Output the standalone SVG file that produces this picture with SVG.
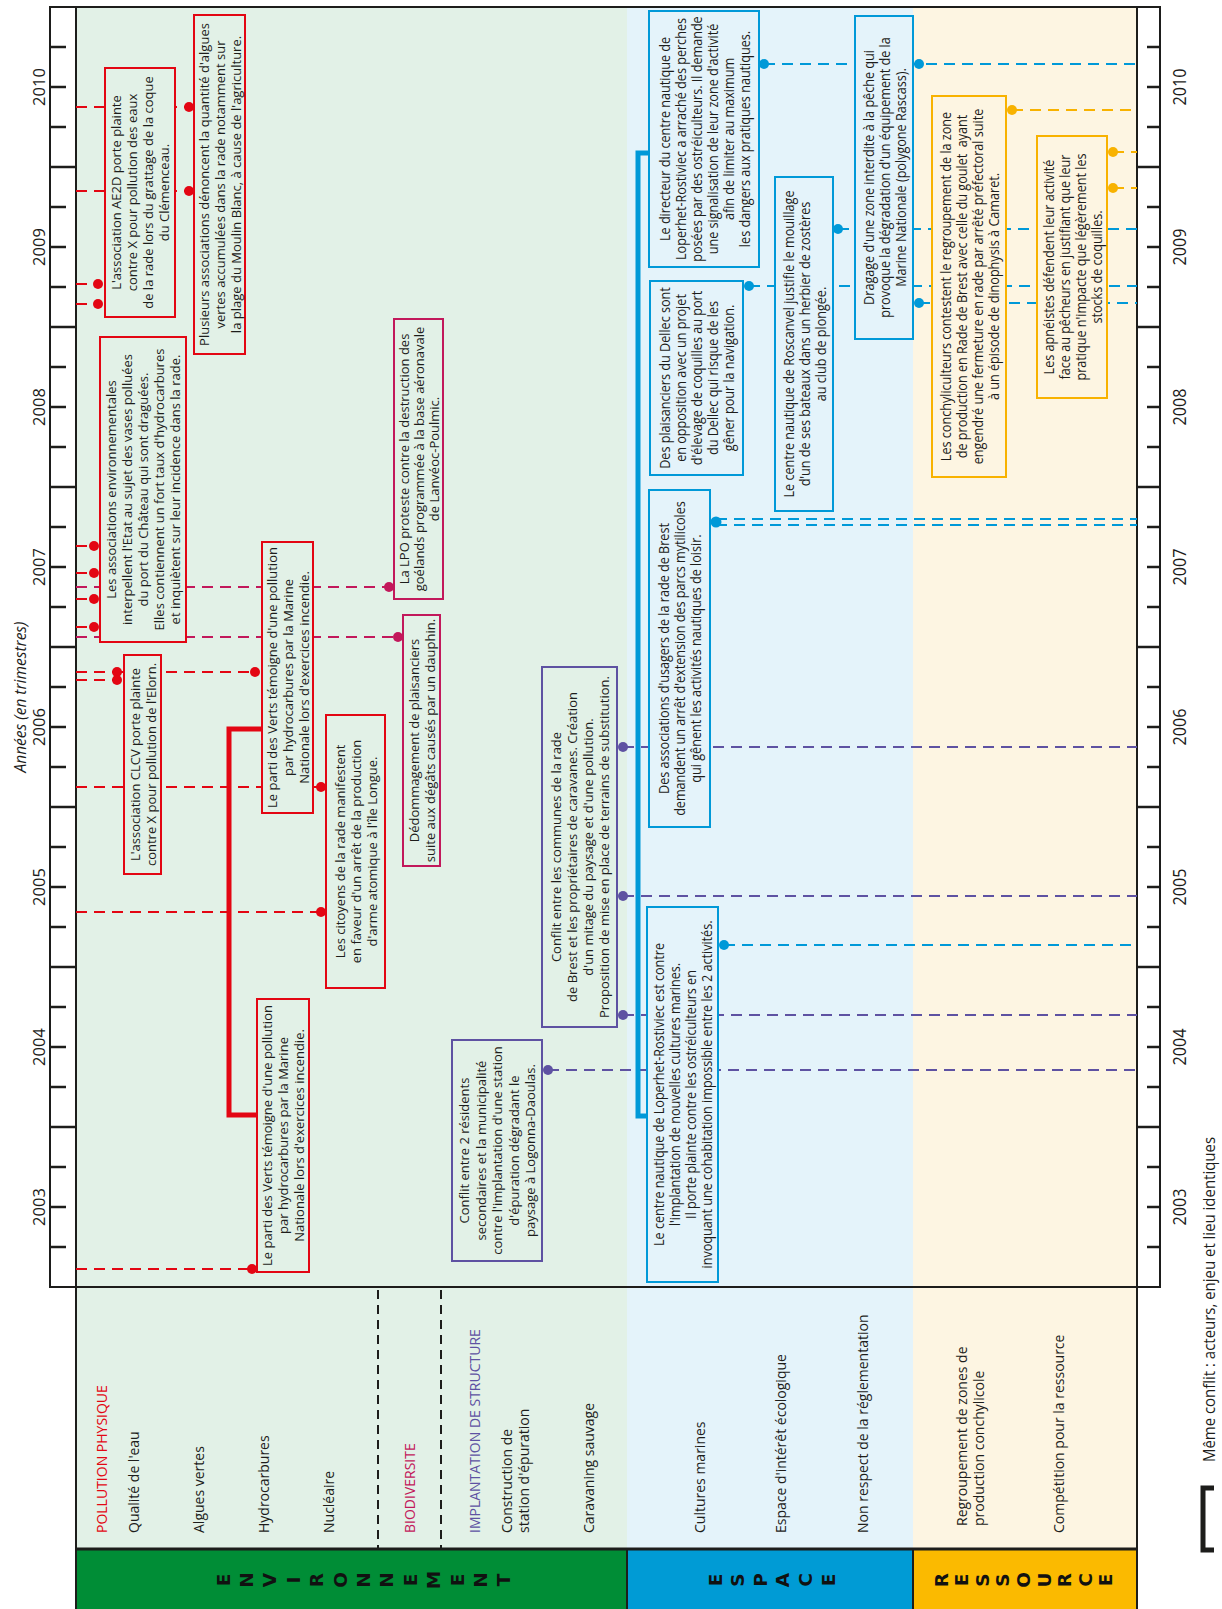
<svg xmlns="http://www.w3.org/2000/svg" width="1222" height="1609" viewBox="0 0 1222 1609">
<style>
text{font-family:'Open Sans','Liberation Sans',sans-serif;}
.bg-g{fill:#e2f1e7}.bg-b{fill:#e4f3fa}.bg-y{fill:#fdf5e2}
.bx-r{fill:#e2f1e7;stroke:#e30613;stroke-width:2}
.bx-m{fill:#e2f1e7;stroke:#c2185b;stroke-width:2}
.bx-p{fill:#e2f1e7;stroke:#5e52a2;stroke-width:2}
.bx-b{fill:#e4f3fa;stroke:#0099d8;stroke-width:2}
.bx-y{fill:#fdf5e2;stroke:#f8b200;stroke-width:2}
.t{font-size:13px;fill:#1d1d1b;text-anchor:middle;dominant-baseline:central}
.tc{font-size:14.5px;fill:#1d1d1b;text-anchor:middle;dominant-baseline:central}
.dr{stroke:#e30613;stroke-width:2;stroke-dasharray:11 7;fill:none}
.dm{stroke:#c2185b;stroke-width:2;stroke-dasharray:11 7;fill:none}
.dp{stroke:#5e52a2;stroke-width:2;stroke-dasharray:11 7;fill:none}
.db{stroke:#0099d8;stroke-width:2;stroke-dasharray:11 7;fill:none}
.dy{stroke:#f8b200;stroke-width:2;stroke-dasharray:11 7;fill:none}
.cr{fill:#e30613}.cm{fill:#c2185b}.cp{fill:#5e52a2}.cb{fill:#0099d8}.cy{fill:#f8b200}
.frame{stroke:#1d1d1b;stroke-width:2;fill:none}
.tick{stroke:#1d1d1b;stroke-width:2.5}
.yl{font-size:16.5px;fill:#1d1d1b;text-anchor:middle;dominant-baseline:central}
.yrc{font-size:19px;fill:#1d1d1b;text-anchor:middle;dominant-baseline:central}
.cat{font-size:14px;fill:#1d1d1b;dominant-baseline:central}
.band{font-family:'DejaVu Sans','Liberation Sans',sans-serif;font-size:18.5px;font-weight:bold;fill:#111111;text-anchor:middle;dominant-baseline:central}
</style>

<!-- backgrounds -->
<g id="backgrounds">
<rect class="bg-g" x="76" y="7" width="551" height="1542"/>
<rect class="bg-b" x="627" y="7" width="286" height="1542"/>
<rect class="bg-y" x="913" y="7" width="224" height="1542"/>
<rect x="76" y="1549" width="551" height="60" fill="#008d36"/>
<rect x="627" y="1549" width="286" height="60" fill="#009bd5"/>
<rect x="913" y="1549" width="224" height="60" fill="#fbba00"/>
<rect x="50" y="7" width="26" height="1280" fill="#ffffff"/>
<rect x="1137" y="7" width="23" height="1280" fill="#ffffff"/>
</g>

<!-- axes -->
<g id="axis-left">
<path class="frame" d="M50 7 H1160 V1287 H50 Z"/>
<path class="frame" d="M76 7 V1609 M1137 7 V1609"/>
<path class="tick" d="M50 167 H76 M50 327 H76 M50 487 H76 M50 647 H76 M50 807 H76 M50 967 H76 M50 1127 H76"/>
<path class="tick" d="M51 47 H66 M51 87 H66 M51 127 H66 M51 207 H66 M51 247 H66 M51 287 H66 M51 367 H66 M51 407 H66 M51 447 H66 M51 527 H66 M51 567 H66 M51 607 H66 M51 687 H66 M51 727 H66 M51 767 H66 M51 847 H66 M51 887 H66 M51 927 H66 M51 1007 H66 M51 1047 H66 M51 1087 H66 M51 1167 H66 M51 1207 H66 M51 1247 H66"/>
<text class="yl" transform="translate(38,87) rotate(-90)">2010</text>
<text class="yl" transform="translate(38,247) rotate(-90)">2009</text>
<text class="yl" transform="translate(38,407) rotate(-90)">2008</text>
<text class="yl" transform="translate(38,567) rotate(-90)">2007</text>
<text class="yl" transform="translate(38,727) rotate(-90)">2006</text>
<text class="yl" transform="translate(38,887) rotate(-90)">2005</text>
<text class="yl" transform="translate(38,1047) rotate(-90)">2004</text>
<text class="yl" transform="translate(38,1207) rotate(-90)">2003</text>
<text transform="translate(20,697) rotate(-90)" style="font-size:15.5px;font-style:italic;fill:#1d1d1b;text-anchor:middle;dominant-baseline:central">Années (en trimestres)</text>
</g>
<g id="axis-right">
<path class="tick" d="M1137 167 H1160 M1137 327 H1160 M1137 487 H1160 M1137 647 H1160 M1137 807 H1160 M1137 967 H1160 M1137 1127 H1160"/>
<path class="tick" d="M1147 47 H1160 M1147 87 H1160 M1147 127 H1160 M1147 207 H1160 M1147 247 H1160 M1147 287 H1160 M1147 367 H1160 M1147 407 H1160 M1147 447 H1160 M1147 527 H1160 M1147 567 H1160 M1147 607 H1160 M1147 687 H1160 M1147 727 H1160 M1147 767 H1160 M1147 847 H1160 M1147 887 H1160 M1147 927 H1160 M1147 1007 H1160 M1147 1047 H1160 M1147 1087 H1160 M1147 1167 H1160 M1147 1207 H1160 M1147 1247 H1160"/>
<g transform="translate(1178,87) rotate(-90) scale(0.85,1)"><text class="yrc">2010</text></g>
<g transform="translate(1178,247) rotate(-90) scale(0.85,1)"><text class="yrc">2009</text></g>
<g transform="translate(1178,407) rotate(-90) scale(0.85,1)"><text class="yrc">2008</text></g>
<g transform="translate(1178,567) rotate(-90) scale(0.85,1)"><text class="yrc">2007</text></g>
<g transform="translate(1178,727) rotate(-90) scale(0.85,1)"><text class="yrc">2006</text></g>
<g transform="translate(1178,887) rotate(-90) scale(0.85,1)"><text class="yrc">2005</text></g>
<g transform="translate(1178,1047) rotate(-90) scale(0.85,1)"><text class="yrc">2004</text></g>
<g transform="translate(1178,1207) rotate(-90) scale(0.85,1)"><text class="yrc">2003</text></g>
</g>

<!-- connectors -->
<g id="connectors">
<path class="dr" d="M76 107 H189 M76 191 H189 M76 284 H98 M76 304 H98 M76 546 H94 M76 573 H94 M76 599 H94 M76 627 H94 M76 672 H255 M76 680 H117 M76 787 H321 M76 912 H321 M76 1269 H252"/>
<path class="dm" d="M76 587 H389 M76 637 H398"/>
<path class="dp" d="M623 747 H1137 M623 896 H1137 M623 1015 H1137 M548 1070 H1137"/>
<path class="db" d="M764 64 H1137 M838 229 H1137 M749 286 H1137 M919 303 H1137 M716 519 H1137 M716 525 H1137 M724 945 H1137"/>
<path class="dy" d="M1012 110 H1137 M1113 152 H1137 M1113 188 H1137"/>
<path d="M262 729 H229 V1115 H257" fill="none" stroke="#e30613" stroke-width="5"/>
<path d="M650 153 H638 V1116 H647" fill="none" stroke="#0099d8" stroke-width="5"/>
<g class="cr">
<circle cx="189" cy="107" r="5"/><circle cx="189" cy="191" r="5"/>
<circle cx="98" cy="284" r="5"/><circle cx="98" cy="304" r="5"/>
<circle cx="94" cy="546" r="5"/><circle cx="94" cy="573" r="5"/><circle cx="94" cy="599" r="5"/><circle cx="94" cy="627" r="5"/>
<circle cx="117" cy="672" r="5"/><circle cx="117" cy="680" r="5"/><circle cx="255" cy="672" r="5"/>
<circle cx="321" cy="787" r="5"/><circle cx="321" cy="912" r="5"/><circle cx="252" cy="1269" r="5"/>
</g>
<g class="cm"><circle cx="389" cy="587" r="5"/><circle cx="398" cy="637" r="5"/></g>
<g class="cp"><circle cx="623" cy="747" r="5"/><circle cx="623" cy="896" r="5"/><circle cx="623" cy="1015" r="5"/><circle cx="548" cy="1070" r="5"/></g>
<g class="cb"><circle cx="764" cy="64" r="5"/><circle cx="919" cy="64" r="5"/><circle cx="838" cy="229" r="5"/><circle cx="749" cy="286" r="5"/><circle cx="919" cy="303" r="5"/><circle cx="716" cy="522" r="5.5"/><circle cx="724" cy="945" r="5"/></g>
<g class="cy"><circle cx="1012" cy="110" r="5"/><circle cx="1113" cy="152" r="5"/><circle cx="1113" cy="188" r="5"/></g>
</g>

<!-- red nodes -->
<g id="n-ae2d" transform="translate(140,192.5) rotate(-90)">
<rect class="bx-r" x="-124.5" y="-35" width="249" height="70"/>
<g class="t"><text y="-24">L'association AE2D porte plainte</text><text y="-8">contre X pour pollution des eaux</text><text y="8">de la rade lors du grattage de la coque</text><text y="24">du Clémenceau.</text></g>
</g>
<g id="n-algues" transform="translate(219.5,184.5) rotate(-90)">
<rect class="bx-r" x="-169.5" y="-25.5" width="339" height="51"/>
<g class="t"><text y="-16">Plusieurs associations dénoncent la quantité d'algues</text><text y="0">vertes accumulées dans la rade notamment sur</text><text y="16">la plage du Moulin Blanc, à cause de l'agriculture.</text></g>
</g>
<g id="n-vases" transform="translate(143,489.5) rotate(-90)">
<rect class="bx-r" x="-152.5" y="-43" width="305" height="86"/>
<g class="t"><text y="-32">Les associations environnementales</text><text y="-16">interpellent l'Etat au sujet des vases polluées</text><text y="0">du port du Château qui sont draguées.</text><text y="16">Elles contiennent un fort taux d'hydrocarbures</text><text y="32">et inquiètent sur leur incidence dans la rade.</text></g>
</g>
<g id="n-clcv" transform="translate(142.5,764.5) rotate(-90)">
<rect class="bx-r" x="-109.5" y="-18.5" width="219" height="37"/>
<g class="t"><text y="-8">L'association CLCV porte plainte</text><text y="8">contre X pour pollution de l'Elorn.</text></g>
</g>
<g id="n-verts2" transform="translate(287.5,677.5) rotate(-90)">
<rect class="bx-r" x="-135.5" y="-25.5" width="271" height="51"/>
<g class="t"><text y="-16">Le parti des Verts témoigne d'une pollution</text><text y="0">par hydrocarbures par la Marine</text><text y="16">Nationale lors d'exercices incendie.</text></g>
</g>
<g id="n-citoyens" transform="translate(355.5,851.5) rotate(-90)">
<rect class="bx-r" x="-136.5" y="-29.5" width="273" height="59"/>
<g class="t"><text y="-16">Les citoyens de la rade manifestent</text><text y="0">en faveur d'un arrêt de la production</text><text y="16">d'arme atomique à l'île Longue.</text></g>
</g>
<g id="n-verts1" transform="translate(283,1135.5) rotate(-90)">
<rect class="bx-r" x="-136.5" y="-26" width="273" height="52"/>
<g class="t"><text y="-16">Le parti des Verts témoigne d'une pollution</text><text y="0">par hydrocarbures par la Marine</text><text y="16">Nationale lors d'exercices incendie.</text></g>
</g>

<!-- magenta nodes -->
<g id="n-lpo" transform="translate(418.5,459) rotate(-90)">
<rect class="bx-m" x="-140" y="-24.5" width="280" height="49"/>
<g class="t"><text y="-15">La LPO proteste contre la destruction des</text><text y="0">goélands programmée à la base aéronavale</text><text y="15">de Lanvéoc-Poulmic.</text></g>
</g>
<g id="n-dauphin" transform="translate(421.5,740.5) rotate(-90)">
<rect class="bx-m" x="-125.5" y="-18.5" width="251" height="37"/>
<g class="t"><text y="-8">Dédommagement de plaisanciers</text><text y="8">suite aux dégâts causés par un dauphin.</text></g>
</g>

<!-- purple nodes -->
<g id="n-logonna" transform="translate(497,1150.5) rotate(-90)">
<rect class="bx-p" x="-110.5" y="-45" width="221" height="90"/>
<g class="t"><text y="-33">Conflit entre 2 résidents</text><text y="-16.5">secondaires et la municipalité</text><text y="0">contre l'implantation d'une station</text><text y="16.5">d'épuration dégradant le</text><text y="33">paysage à Logonna-Daoulas.</text></g>
</g>
<g id="n-caravanes" transform="translate(579.5,847) rotate(-90)">
<rect class="bx-p" x="-180" y="-37.5" width="360" height="75"/>
<g class="t"><text y="-24">Conflit entre les communes de la rade</text><text y="-8">de Brest et les propriétaires de caravanes. Création</text><text y="8">d'un mitage du paysage et d'une pollution.</text><text y="24">Proposition de mise en place de terrains de substitution.</text></g>
</g>

<!-- blue nodes -->
<g id="n-loperhet" transform="translate(682.5,1094.5) rotate(-90)">
<rect class="bx-b" x="-187.5" y="-35.5" width="375" height="71"/>
<g class="tc" transform="scale(0.87,1)"><text y="-24">Le centre nautique de Loperhet-Rostiviec est contre</text><text y="-8">l'implantation de nouvelles cultures marines.</text><text y="8">Il porte plainte contre les ostréiculteurs en</text><text y="24">invoquant une cohabitation impossible entre les 2 activités.</text></g>
</g>
<g id="n-directeur" transform="translate(704,139) rotate(-90)">
<rect class="bx-b" x="-128" y="-55" width="256" height="110"/>
<g class="tc" transform="scale(0.87,1)"><text y="-40">Le directeur du centre nautique de</text><text y="-24">Loperhet-Rostiviec a arraché des perches</text><text y="-8">posées par des ostréiculteurs. Il demande</text><text y="8">une signalisation de leur zone d'activité</text><text y="24">afin de limiter au maximum</text><text y="40">les dangers aux pratiques nautiques.</text></g>
</g>
<g id="n-dellec" transform="translate(696.5,378) rotate(-90)">
<rect class="bx-b" x="-97" y="-46.5" width="194" height="93"/>
<g class="tc" transform="scale(0.87,1)"><text y="-32">Des plaisanciers du Dellec sont</text><text y="-16">en opposition avec un projet</text><text y="0">d'élevage de coquilles au port</text><text y="16">du Dellec qui risque de les</text><text y="32">gêner pour la navigation.</text></g>
</g>
<g id="n-usagers" transform="translate(679.5,658.5) rotate(-90)">
<rect class="bx-b" x="-168.5" y="-30.5" width="337" height="61"/>
<g class="tc" transform="scale(0.87,1)"><text y="-16">Des associations d'usagers de la rade de Brest</text><text y="0">demandent un arrêt d'extension des parcs mytilicoles</text><text y="16">qui gênent les activités nautiques de loisir.</text></g>
</g>
<g id="n-roscanvel" transform="translate(804,344) rotate(-90)">
<rect class="bx-b" x="-167" y="-29" width="334" height="58"/>
<g class="tc" transform="scale(0.87,1)"><text y="-16">Le centre nautique de Roscanvel justifie le mouillage</text><text y="0">d'un de ses bateaux dans un herbier de zostères</text><text y="16">au club de plongée.</text></g>
</g>
<g id="n-dragage" transform="translate(884,177.5) rotate(-90)">
<rect class="bx-b" x="-161.5" y="-29" width="323" height="58"/>
<g class="tc" transform="scale(0.87,1)"><text y="-16">Dragage d'une zone interdite à la pêche qui</text><text y="0">provoque la dégradation d'un équipement de la</text><text y="16">Marine Nationale (polygone Rascass).</text></g>
</g>

<!-- yellow nodes -->
<g id="n-conchyli" transform="translate(969,286.5) rotate(-90)">
<rect class="bx-y" x="-190.5" y="-37" width="381" height="74"/>
<g class="tc" transform="scale(0.87,1)"><text y="-24">Les conchyliculteurs contestent le regroupement de la zone</text><text y="-8">de production en Rade de Brest avec celle du goulet&#160; ayant</text><text y="8">engendré une fermeture en rade par arrêté préfectoral suite</text><text y="24">à un épisode de dinophysis à Camaret.</text></g>
</g>
<g id="n-apneistes" transform="translate(1072,267) rotate(-90)">
<rect class="bx-y" x="-131" y="-35" width="262" height="70"/>
<g class="tc" transform="scale(0.87,1)"><text y="-24">Les apnéistes défendent leur activité</text><text y="-8">face au pêcheurs en justifiant que leur</text><text y="8">pratique n'impacte que légèrement les</text><text y="24">stocks de coquilles.</text></g>
</g>

<!-- categories -->
<g id="categories">
<path d="M378 1290 V1548 M441 1290 V1548" stroke="#1d1d1b" stroke-width="2" stroke-dasharray="9 6" fill="none"/>
<path d="M76 1549 H1137" stroke="#1d1d1b" stroke-width="3"/>
<path d="M627 1549 V1609 M913 1549 V1609" stroke="#1d1d1b" stroke-width="2"/>
<text class="cat" transform="translate(101,1533) rotate(-90)" style="fill:#e30613">POLLUTION PHYSIQUE</text>
<text class="cat" transform="translate(133,1533) rotate(-90)">Qualité de l'eau</text>
<text class="cat" transform="translate(198,1533) rotate(-90)">Algues vertes</text>
<text class="cat" transform="translate(263,1533) rotate(-90)">Hydrocarbures</text>
<text class="cat" transform="translate(328,1533) rotate(-90)">Nucléaire</text>
<text class="cat" transform="translate(409,1533) rotate(-90)" style="fill:#c2185b">BIODIVERSITE</text>
<text class="cat" transform="translate(474,1533) rotate(-90)" style="fill:#5e52a2">IMPLANTATION DE STRUCTURE</text>
<text class="cat" transform="translate(506,1533) rotate(-90)">Construction de</text>
<text class="cat" transform="translate(523,1533) rotate(-90)">station d'épuration</text>
<text class="cat" transform="translate(588,1533) rotate(-90)">Caravaning sauvage</text>
<text class="cat" transform="translate(699,1533) rotate(-90)">Cultures marines</text>
<text class="cat" transform="translate(780,1533) rotate(-90)">Espace d'intérêt écologique</text>
<text class="cat" transform="translate(862,1533) rotate(-90)">Non respect de la réglementation</text>
<text class="cat" transform="translate(961,1526) rotate(-90)">Regroupement de zones de</text>
<text class="cat" transform="translate(978,1526) rotate(-90)">production conchylicole</text>
<text class="cat" transform="translate(1058,1533) rotate(-90)">Compétition pour la ressource</text>
</g>

<g id="band-environnement">
<text class="band" transform="translate(223,1580) rotate(-90)">E</text>
<text class="band" transform="translate(246.4,1580) rotate(-90)">N</text>
<text class="band" transform="translate(269.8,1580) rotate(-90)">V</text>
<text class="band" transform="translate(293.2,1580) rotate(-90)">I</text>
<text class="band" transform="translate(316.6,1580) rotate(-90)">R</text>
<text class="band" transform="translate(340,1580) rotate(-90)">O</text>
<text class="band" transform="translate(363.4,1580) rotate(-90)">N</text>
<text class="band" transform="translate(386.8,1580) rotate(-90)">N</text>
<text class="band" transform="translate(410.2,1580) rotate(-90)">E</text>
<text class="band" transform="translate(433.6,1580) rotate(-90)">M</text>
<text class="band" transform="translate(457,1580) rotate(-90)">E</text>
<text class="band" transform="translate(480.4,1580) rotate(-90)">N</text>
<text class="band" transform="translate(503.8,1580) rotate(-90)">T</text>
</g>
<g id="band-espace">
<text class="band" transform="translate(715,1580) rotate(-90)">E</text>
<text class="band" transform="translate(737.6,1580) rotate(-90)">S</text>
<text class="band" transform="translate(760.2,1580) rotate(-90)">P</text>
<text class="band" transform="translate(782.8,1580) rotate(-90)">A</text>
<text class="band" transform="translate(805.4,1580) rotate(-90)">C</text>
<text class="band" transform="translate(828,1580) rotate(-90)">E</text>
</g>
<g id="band-ressource">
<text class="band" transform="translate(941,1580) rotate(-90)">R</text>
<text class="band" transform="translate(961.6,1580) rotate(-90)">E</text>
<text class="band" transform="translate(982.2,1580) rotate(-90)">S</text>
<text class="band" transform="translate(1002.8,1580) rotate(-90)">S</text>
<text class="band" transform="translate(1023.4,1580) rotate(-90)">O</text>
<text class="band" transform="translate(1044,1580) rotate(-90)">U</text>
<text class="band" transform="translate(1064.6,1580) rotate(-90)">R</text>
<text class="band" transform="translate(1085.2,1580) rotate(-90)">C</text>
<text class="band" transform="translate(1105.8,1580) rotate(-90)">E</text>
</g>

<g id="legend">
<path d="M1214 1488 H1203 V1550 H1214" fill="none" stroke="#1d1d1b" stroke-width="5"/>
<g transform="translate(1209,1462) rotate(-90) scale(0.88,1)"><text style="font-size:17px;fill:#1d1d1b;dominant-baseline:central">Même conflit : acteurs, enjeu et lieu identiques</text></g>
</g>
</svg>
